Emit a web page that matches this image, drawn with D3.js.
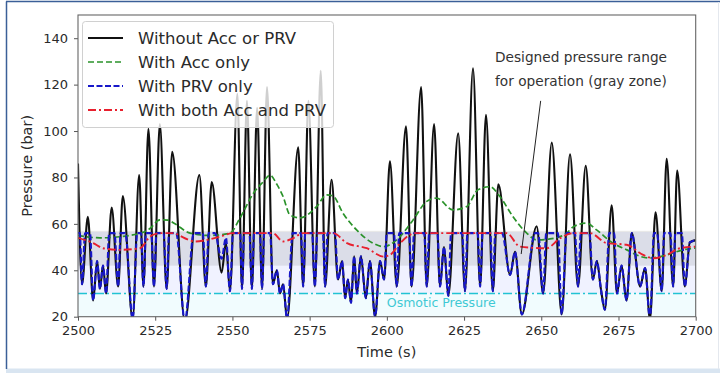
<!DOCTYPE html>
<html>
<head>
<meta charset="utf-8">
<script src="https://cdn.jsdelivr.net/npm/d3@7"></script>
<style>
  html, body { margin: 0; padding: 0; background: #fff; }
  svg { display: block; font-family: "DejaVu Sans", sans-serif; }
</style>
</head>
<body>
<div class="graph"></div>
<script>
// values: [time (s), pressure (bar)]
const withoutAccPrv = [
  [2500.0, 86], [2501.3, 34], [2503.2, 63], [2504.9, 27], [2506.2, 44], [2507.1, 32],
  [2508.1, 42], [2509.1, 30], [2510.9, 67], [2513.0, 33], [2514.5, 72], [2517.7, 19],
  [2519.8, 81], [2521.2, 33], [2522.8, 101], [2524.6, 33], [2526.5, 103], [2528.7, 32],
  [2530.5, 91], [2534.6, 18], [2539.3, 81], [2541.4, 33], [2543.3, 78], [2546.5, 39],
  [2547.9, 52], [2549.2, 31], [2551.6, 116], [2553.1, 32], [2554.7, 113], [2556.3, 32],
  [2558.0, 110], [2559.6, 32], [2561.2, 119], [2563.1, 34], [2564.4, 40], [2565.4, 30],
  [2566.4, 34], [2567.7, 19], [2571.3, 93], [2572.9, 33], [2574.6, 113], [2576.7, 33],
  [2578.6, 126], [2580.0, 33], [2582.1, 79], [2584.2, 36], [2585.5, 44], [2586.5, 28],
  [2587.4, 36], [2588.4, 26], [2589.4, 46], [2590.3, 30], [2591.6, 46], [2593.2, 28],
  [2594.5, 44], [2596.2, 20], [2597.8, 44], [2599.1, 36], [2601.0, 87], [2603.2, 33],
  [2606.2, 102], [2608.0, 33], [2611.1, 119], [2612.9, 33], [2615.3, 103], [2617.2, 33],
  [2618.5, 50], [2619.9, 29], [2623.1, 99], [2625.3, 31], [2627.9, 127], [2630.2, 33],
  [2632.1, 107], [2634.3, 31], [2636.1, 77], [2639.9, 38], [2641.5, 48], [2643.7, 21],
  [2648.5, 59], [2650.6, 30], [2653.4, 95], [2656.6, 21], [2659.3, 90], [2661.9, 33],
  [2664.4, 85], [2666.7, 36], [2668.0, 44], [2669.3, 32], [2670.6, 23], [2672.8, 68],
  [2674.5, 30], [2676.0, 42], [2677.6, 27], [2679.3, 56], [2682.0, 33], [2683.6, 41],
  [2685.2, 19], [2687.0, 65], [2689.0, 31], [2690.6, 88], [2692.7, 33], [2694.0, 83],
  [2696.5, 33], [2698.1, 52], [2700.0, 53],
];

const withAccOnly = [
  [2500.0, 55], [2507.1, 54], [2516.8, 55], [2523.3, 58], [2526.5, 61.7], [2529.1, 61.6],
  [2531.4, 60], [2536.3, 56], [2542.7, 55], [2549.2, 56], [2552.5, 62.6], [2556.7, 73],
  [2559.9, 78], [2562.2, 81], [2564.4, 77], [2566.4, 71.8], [2568.6, 63.9], [2571.9, 62.6],
  [2577.3, 67.5], [2580.5, 72.5], [2582.6, 72], [2585.8, 64.6], [2590.2, 57.4], [2595.5, 51.7],
  [2598.9, 50.2], [2603.2, 53.1], [2608.5, 61.7], [2612.9, 69.7], [2616.1, 71.1], [2621.4, 66],
  [2625.9, 67.5], [2629.5, 74.7], [2633.4, 76], [2636.6, 71.8], [2640.8, 63.2], [2645.3, 56],
  [2648.5, 53.1], [2652.8, 53.5], [2658.2, 56], [2660.4, 58.8], [2664.7, 60.3], [2667.9, 57.4],
  [2673.2, 51.7], [2677.7, 48.8], [2682.0, 46], [2685.2, 45.3], [2690.6, 46.6], [2695.9, 48.8],
  [2700.0, 49.6],
];

const withPrvOnly = [
  [2500.0, 56], [2500.6, 56], [2501.3, 34], [2502.3, 56], [2503.9, 56], [2504.9, 27],
  [2506.2, 44], [2507.1, 32], [2508.1, 42], [2509.1, 30], [2510.1, 56], [2511.8, 56],
  [2513.0, 33], [2513.8, 56], [2515.3, 56], [2517.7, 19], [2519.2, 56], [2520.4, 56],
  [2521.2, 33], [2522.0, 56], [2523.7, 56], [2524.6, 33], [2525.4, 56], [2527.7, 56],
  [2528.7, 32], [2529.5, 56], [2531.8, 56], [2534.6, 18], [2537.5, 56], [2540.4, 56],
  [2541.4, 33], [2542.3, 56], [2544.3, 56], [2546.5, 45], [2547.9, 54], [2549.2, 31],
  [2550.2, 56], [2552.5, 56], [2553.1, 32], [2553.8, 56], [2555.5, 56], [2556.3, 32],
  [2557.0, 56], [2558.9, 56], [2559.6, 32], [2560.3, 56], [2562.2, 56], [2563.1, 34],
  [2564.4, 40], [2565.4, 30], [2566.4, 34], [2567.7, 19], [2569.5, 56], [2572.2, 56],
  [2572.9, 33], [2573.6, 56], [2575.8, 56], [2576.7, 33], [2577.5, 56], [2579.3, 56],
  [2580.0, 33], [2580.8, 56], [2583.2, 56], [2584.2, 36], [2585.5, 44], [2586.5, 28],
  [2587.4, 36], [2588.4, 26], [2589.4, 46], [2590.3, 30], [2591.6, 46], [2593.2, 28],
  [2594.5, 44], [2596.2, 20], [2597.8, 44], [2599.1, 36], [2600.0, 56], [2602.3, 56],
  [2603.2, 33], [2604.0, 56], [2607.2, 56], [2608.0, 33], [2608.8, 56], [2612.1, 56],
  [2612.9, 33], [2613.7, 56], [2616.4, 56], [2617.2, 33], [2618.5, 50], [2619.9, 29],
  [2620.8, 56], [2624.4, 56], [2625.3, 31], [2626.1, 56], [2629.4, 56], [2630.2, 33],
  [2631.0, 56], [2633.5, 56], [2634.3, 31], [2635.1, 56], [2637.3, 56], [2639.9, 38],
  [2641.5, 48], [2643.7, 21], [2648.0, 56], [2649.0, 56], [2650.6, 30], [2651.6, 56],
  [2655.4, 56], [2656.6, 21], [2658.2, 56], [2660.9, 56], [2661.9, 33], [2662.8, 56],
  [2665.6, 56], [2666.7, 36], [2668.0, 44], [2669.3, 32], [2670.6, 23], [2672.0, 56],
  [2673.6, 56], [2674.5, 30], [2676.0, 42], [2677.6, 27], [2679.3, 56], [2682.0, 33],
  [2683.6, 41], [2685.2, 19], [2686.5, 56], [2687.5, 56], [2689.0, 31], [2689.8, 56],
  [2691.8, 56], [2692.7, 33], [2693.4, 56], [2695.5, 56], [2696.5, 33], [2698.1, 52],
  [2700.0, 53],
];

const withBoth = [
  [2500.0, 54], [2504.9, 51.7], [2508.1, 49.5], [2513.6, 48.8], [2520.1, 49.5], [2523.3, 54.5],
  [2526.5, 56], [2530.8, 56], [2534.6, 53.8], [2537.9, 52.4], [2541.8, 53.1], [2546.0, 54.5],
  [2550.2, 56], [2563.1, 56], [2566.4, 52.4], [2569.6, 53.8], [2572.9, 56], [2582.6, 56],
  [2587.1, 51.7], [2593.5, 49.5], [2598.9, 45.9], [2601.0, 46.6], [2604.3, 51.7], [2607.5, 55.3],
  [2609.1, 56], [2638.8, 56], [2643.1, 50.2], [2651.7, 49.5], [2656.1, 53.8], [2660.3, 56],
  [2665.8, 56], [2671.2, 51.7], [2677.6, 51], [2683.0, 46.6], [2686.3, 45.2], [2690.6, 46.6],
  [2694.9, 49.5], [2700.0, 50.2],
];

const xTicks = [2500, 2525, 2550, 2575, 2600, 2625, 2650, 2675, 2700];
const yTicks = [20, 40, 60, 80, 100, 120, 140];
const seriesLabels = ["Without Acc or PRV", "With Acc only", "With PRV only", "With both Acc and PRV"];
const osmoticPressure = 30;
const grayZone = [42, 57];
const annotationLines = ["Designed pressure range", "for operation (gray zone)"];
const annotationFrom = [2649.8, 113];
const annotationTo = [2643.5, 47];

const width = 720;
const height = 373;
const margin = { left: 78, right: 24.3, top: 15, bottom: 56.3 };

const svg = d3
  .select(".graph")
  .append("svg")
  .attr("width", width)
  .attr("height", height)
  .attr("viewBox", [0, 0, width, height]);

// screenshot frame
svg.append("rect").attr("x", 0).attr("y", 0).attr("width", width).attr("height", height).attr("fill", "#fff");
svg.append("rect").attr("x", 6).attr("y", 368.5).attr("width", 714).attr("height", 4.5).attr("fill", "#d9e5f1");
svg.append("line").attr("x1", 6.5).attr("x2", 6.5).attr("y1", 1.5).attr("y2", 369).attr("stroke", "#3b5f98").attr("stroke-width", 1.5);
svg.append("line").attr("x1", 6).attr("x2", 720).attr("y1", 1.5).attr("y2", 1.5).attr("stroke", "#3b5f98").attr("stroke-width", 1.5);
svg.append("line").attr("x1", 718.5).attr("x2", 718.5).attr("y1", 2).attr("y2", 369).attr("stroke", "#e4e8ee").attr("stroke-width", 1);

const x = d3.scaleLinear().domain([2500, 2700]).range([margin.left, width - margin.right]);
const y = d3.scaleLinear().domain([20, 150]).range([height - margin.bottom, margin.top]);

svg
  .append("clipPath")
  .attr("id", "plot-clip")
  .append("rect")
  .attr("x", x(2500))
  .attr("y", y(150))
  .attr("width", x(2700) - x(2500))
  .attr("height", y(20) - y(150));

const plot = svg.append("g").attr("clip-path", "url(#plot-clip)");

// shaded bands
plot.append("rect")
  .attr("x", x(2500)).attr("width", x(2700) - x(2500))
  .attr("y", y(osmoticPressure)).attr("height", y(20) - y(osmoticPressure))
  .attr("fill", "rgba(120,225,245,0.10)");
plot.append("rect")
  .attr("x", x(2500)).attr("width", x(2700) - x(2500))
  .attr("y", y(56.5)).attr("height", y(osmoticPressure) - y(56.5))
  .attr("fill", "rgba(70,90,255,0.08)");
plot.append("rect")
  .attr("x", x(2500)).attr("width", x(2700) - x(2500))
  .attr("y", y(grayZone[1])).attr("height", y(grayZone[0]) - y(grayZone[1]))
  .attr("fill", "rgba(120,120,120,0.17)");

// osmotic pressure line and label, under the series
plot.append("line")
  .attr("x1", x(2500)).attr("x2", x(2700))
  .attr("y1", y(osmoticPressure)).attr("y2", y(osmoticPressure))
  .attr("stroke", "#22c3d3").attr("stroke-width", 1.6)
  .attr("stroke-dasharray", "9,3,2,3");

plot.append("text")
  .attr("x", x(2600))
  .attr("y", y(26))
  .attr("dy", "0.35em")
  .attr("fill", "#3fc9d4")
  .attr("font-size", 12.5)
  .text("Osmotic Pressure");

const line = d3
  .line()
  .x((d) => x(d[0]))
  .y((d) => y(d[1]))
  .curve(d3.curveMonotoneX);

const series = [
  { data: withoutAccPrv, color: "#111", width: 2.1, dash: null },
  { data: withAccOnly, color: "#2a922a", width: 1.7, dash: "6,3" },
  { data: withPrvOnly, color: "#1717c9", width: 2.1, dash: "6,2.5" },
  { data: withBoth, color: "#e8202e", width: 1.9, dash: "8,3,2,3" },
];

plot
  .append("g")
  .selectAll()
  .data(series)
  .join("path")
  .attr("d", (d) => line(d.data))
  .attr("fill", "none")
  .attr("stroke", (d) => d.color)
  .attr("stroke-width", (d) => d.width)
  .attr("stroke-dasharray", (d) => d.dash)
  .attr("stroke-linejoin", "round");

// axes
const xAxis = svg
  .append("g")
  .attr("transform", `translate(0,${y(20)})`)
  .call(d3.axisBottom(x).tickValues(xTicks).tickFormat(d3.format("d")).tickSize(4).tickPadding(5));
const yAxis = svg
  .append("g")
  .attr("transform", `translate(${x(2500)},0)`)
  .call(d3.axisLeft(y).tickValues(yTicks).tickSize(4).tickPadding(6));

[xAxis, yAxis].forEach((g) => {
  g.select(".domain").remove();
  g.selectAll("line").attr("stroke", "#555");
  g.selectAll("text").attr("fill", "#2a2a2a").attr("font-size", 13).attr("font-family", "DejaVu Sans");
});

svg.append("rect")
  .attr("x", x(2500)).attr("y", y(150))
  .attr("width", x(2700) - x(2500)).attr("height", y(20) - y(150))
  .attr("fill", "none").attr("stroke", "#666").attr("stroke-width", 1.1);

svg.append("text")
  .attr("x", (x(2500) + x(2700)) / 2)
  .attr("y", 352)
  .attr("dy", "0.35em")
  .attr("text-anchor", "middle")
  .attr("font-size", 14.5)
  .attr("fill", "#2a2a2a")
  .text("Time (s)");

svg.append("text")
  .attr("transform", `translate(27,${(y(20) + y(150)) / 2}) rotate(-90)`)
  .attr("dy", "0.35em")
  .attr("text-anchor", "middle")
  .attr("font-size", 14.5)
  .attr("fill", "#2a2a2a")
  .text("Pressure (bar)");

// annotation
svg.append("line")
  .attr("x1", x(annotationFrom[0])).attr("y1", y(annotationFrom[1]))
  .attr("x2", x(annotationTo[0])).attr("y2", y(annotationTo[1]))
  .attr("stroke", "#222").attr("stroke-width", 1);

svg.append("g")
  .selectAll()
  .data(annotationLines)
  .join("text")
  .attr("x", 495)
  .attr("y", (d, i) => 57 + i * 24.5)
  .attr("dy", "0.35em")
  .attr("font-size", 13.7)
  .attr("fill", "#333")
  .text((d) => d);

// legend
const legend = svg.append("g");
legend.append("rect")
  .attr("x", 82.5).attr("y", 21.5).attr("width", 251).attr("height", 106).attr("rx", 3)
  .attr("fill", "rgba(255,255,255,0.8)").attr("stroke", "#d0d0d0");

const entry = legend
  .selectAll("g.entry")
  .data(series.map((s, i) => ({ ...s, label: seriesLabels[i] })))
  .join("g")
  .attr("transform", (d, i) => `translate(0,${38 + i * 24})`);

entry.append("line")
  .attr("x1", 88).attr("x2", 123)
  .attr("stroke", (d) => d.color)
  .attr("stroke-width", (d) => d.width)
  .attr("stroke-dasharray", (d) => d.dash);

entry.append("text")
  .attr("x", 138)
  .attr("dy", "0.35em")
  .attr("font-size", 16.5)
  .attr("fill", "#2a2a2a")
  .text((d) => d.label);
</script>
</body>
</html>
